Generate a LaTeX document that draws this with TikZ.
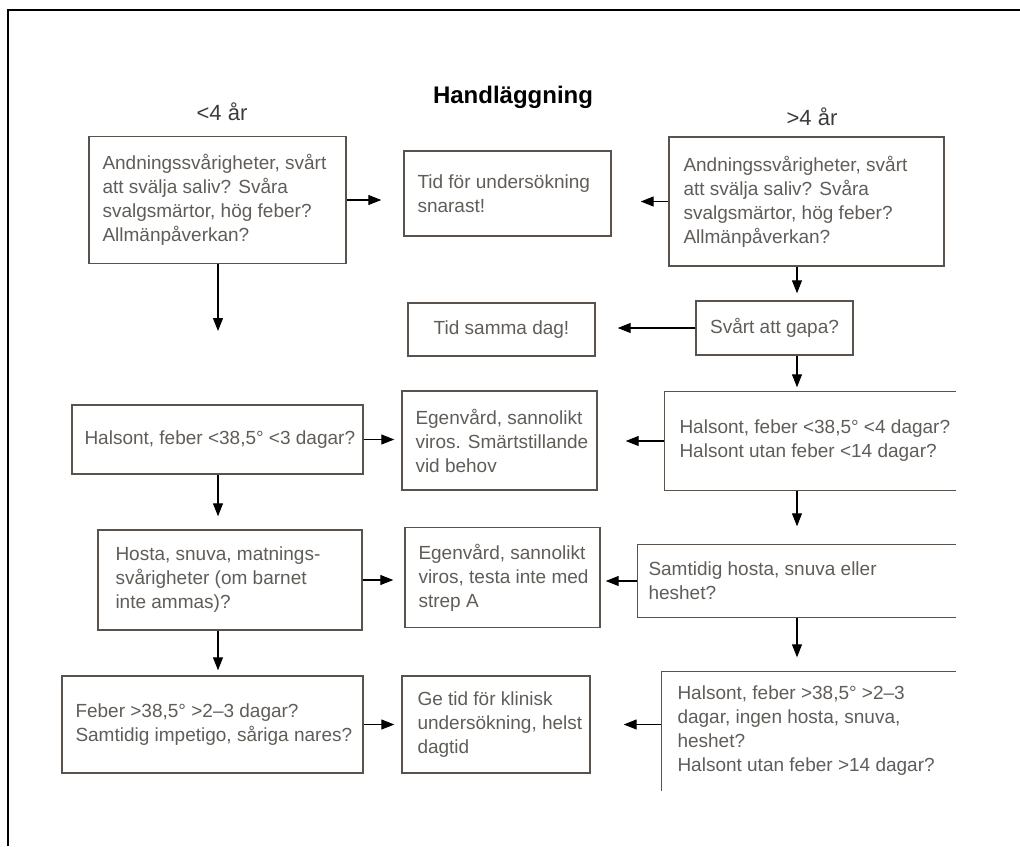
\documentclass[tikz,border=0pt]{standalone}
\usepackage{fontspec}
\setmainfont{Liberation Sans}
\usetikzlibrary{arrows.meta}
\definecolor{txt}{RGB}{96,92,88}
\definecolor{bord}{RGB}{90,82,76}
\definecolor{agecol}{RGB}{60,60,60}
\begin{document}
\begin{tikzpicture}[x=1pt,y=-1pt,
  bx/.style={draw=bord, line width=1.4pt, rectangle, inner sep=0pt},
  openbx/.style={bx, draw=none},
  tx/.style={anchor=west, inner sep=0pt, align=left, font=\fontsize{19}{24}\selectfont, text=txt},
  ctx/.style={inner sep=0pt, align=center, font=\fontsize{19}{24}\selectfont, text=txt},
  side/.style={draw=bord, line width=1.4pt},
  arr/.style={-{Triangle[length=13pt,width=10pt]}, line width=1.1pt, black}]
\useasboundingbox (0,0) rectangle (1020,846);
\draw[line width=1.5pt] (8,846) -- (8,10) -- (1020,10);

\node[font=\bfseries\fontsize{24}{28}\selectfont] (title) at (513,97) {Handläggning};
\node[font=\fontsize{22}{26}\selectfont, text=agecol] (lt) at (222,112) {<4 år};
\node[font=\fontsize{22}{26}\selectfont, text=agecol] (gt) at (812,117) {>4 år};

\coordinate (rc) at (797,0);
\coordinate (lc) at (218,0);
\coordinate (Lfree) at (218,331);

% row 1
\node[bx, minimum width=257pt, minimum height=127pt] (L1) at (217.5,200) {};
\node[tx] (L1t) at ([xshift=14pt]L1.west)
  {Andningssvårigheter, svårt\\att svälja saliv? Svåra\\svalgsmärtor, hög feber?\\Allmänpåverkan?};
\node[bx, minimum width=207pt, minimum height=85pt] (M1) at (507.5,193.5) {};
\node[tx] (M1t) at ([xshift=14pt]M1.west) {Tid för undersökning\\snarast!};
\node[bx, minimum width=275pt, minimum height=129pt] (R1) at (806.5,201.5) {};
\node[tx] (R1t) at ([xshift=15pt]R1.west)
  {Andningssvårigheter, svårt\\att svälja saliv? Svåra\\svalgsmärtor, hög feber?\\Allmänpåverkan?};

% row 2
\node[bx, minimum width=187pt, minimum height=53pt] (M2) at (501.5,329.5) {};
\node[ctx] (M2t) at (M2) {Tid samma dag!};
\node[bx, minimum width=157pt, minimum height=54pt] (R2) at (774.5,328) {};
\node[ctx] (R2t) at (R2) {Svårt att gapa?};

% row 3
\node[bx, minimum width=291pt, minimum height=69pt] (L3) at (217.5,439.5) {};
\node[tx] (L3t) at ([xshift=13pt]L3.west) {Halsont, feber <38,5° <3 dagar?};
\node[bx, minimum width=195pt, minimum height=99pt] (M3) at (499.5,440.5) {};
\node[tx] (M3t) at ([xshift=14pt]M3.west) {Egenvård, sannolikt\\viros. Smärtstillande\\vid behov};
\node[openbx, minimum width=290pt, minimum height=98pt] (R3) at (810,441) {};
\draw[side] (R3.north east) -- (R3.north west) -- (R3.south west) -- (R3.south east);
\node[tx] (R3t) at ([xshift=15pt]R3.west) {Halsont, feber <38,5° <4 dagar?\\Halsont utan feber <14 dagar?};

% row 4
\node[bx, minimum width=264pt, minimum height=100pt] (L4) at (230,580) {};
\node[tx] (L4t) at ([xshift=18pt]L4.west) {Hosta, snuva, matnings-\\svårigheter (om barnet\\inte ammas)?};
\node[bx, minimum width=195pt, minimum height=100pt] (M4) at (502.5,577.5) {};
\node[tx] (M4t) at ([xshift=14pt]M4.west) {Egenvård, sannolikt\\viros, testa inte med\\strep A};
\node[openbx, minimum width=317pt, minimum height=72pt] (R4) at (796.5,581) {};
\draw[side] (R4.north east) -- (R4.north west) -- (R4.south west) -- (R4.south east);
\node[tx] (R4t) at ([xshift=11pt]R4.west) {Samtidig hosta, snuva eller\\heshet?};

% row 5
\node[bx, minimum width=301pt, minimum height=97pt] (L5) at (212.5,724.5) {};
\node[tx] (L5t) at ([xshift=14pt]L5.west) {Feber >38,5° >2–3 dagar?\\Samtidig impetigo, såriga nares?};
\node[bx, minimum width=188pt, minimum height=97pt] (M5) at (496,724.5) {};
\node[tx] (M5t) at ([xshift=16pt]M5.west) {Ge tid för klinisk\\undersökning, helst\\dagtid};
\node[openbx, minimum width=293pt, minimum height=118pt] (R5) at (808.5,731) {};
\draw[side] (R5.north east) -- (R5.north west) -- (R5.south west);
\node[tx] (R5t) at ([xshift=16pt]R5.west)
  {Halsont, feber >38,5° >2–3\\dagar, ingen hosta, snuva,\\heshet?\\Halsont utan feber >14 dagar?};

% connectors
\draw[arr, shorten >=22pt] (L1.east) -- (L1.east -| M1.west);
\draw[arr, shorten >=29pt] (R1.west) -- (R1.west -| M1.east);
\draw[arr] (L1.south -| lc) -- (Lfree);
\draw[arr, shorten >=7pt] (R1.south -| rc) -- (R2.north -| rc);
\draw[arr, shorten >=22pt] (R2.west) -- (R2.west -| M2.east);
\draw[arr, shorten >=4pt] (R2.south -| rc) -- (R3.north -| rc);
\draw[arr, shorten >=7pt] (L3.east) -- (L3.east -| M3.west);
\draw[arr, shorten >=28pt] (R3.west) -- (R3.west -| M3.east);
\draw[arr, shorten >=13pt] (L3.south -| lc) -- (L4.north -| lc);
\draw[arr, shorten >=18pt] (R3.south -| rc) -- (R4.north -| rc);
\draw[arr, shorten >=11pt] (L4.east) -- (L4.east -| M4.west);
\draw[arr, shorten >=5pt] (R4.west) -- (R4.west -| M4.east);
\draw[arr, shorten >=5pt] (L4.south -| lc) -- (L5.north -| lc);
\draw[arr, shorten >=14pt] (R4.south -| rc) -- (R5.north -| rc);
\draw[arr, shorten >=7pt] (L5.east) -- (L5.east -| M5.west);
\draw[arr, shorten >=33pt] (M5.east -| R5.west) -- (M5.east);
\end{tikzpicture}
\end{document}
